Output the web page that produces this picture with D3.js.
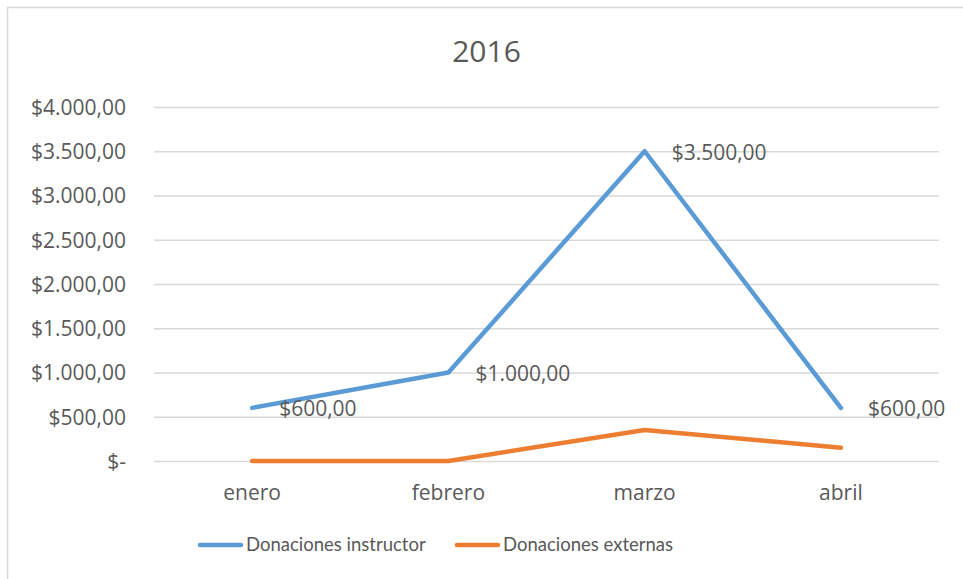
<!DOCTYPE html>
<html>
<head>
<meta charset="utf-8">
<script src="https://cdn.jsdelivr.net/npm/d3@7"></script>
<style>
  body { margin: 0; background: #fff; }
  text { font-family: "Open Sans", sans-serif; fill: #595959; }
  .legend text { font-family: Lato, sans-serif; }
</style>
</head>
<body>
<div id="chart"></div>
<script>
// chart data
const title = '2016';
const months = ['enero', 'febrero', 'marzo', 'abril'];
const instructor = [600, 1000, 3500, 600];
const externas = [0, 0, 350, 150];
const seriesNames = ['Donaciones instructor', 'Donaciones externas'];
const yTicks = [0, 500, 1000, 1500, 2000, 2500, 3000, 3500, 4000];

const width = 963, height = 579;
const margin = {top: 107, right: 24, bottom: 118, left: 154};
const colors = ['#5B9BD5', '#ED7D31'];

// spanish currency format: $4.000,00
const fmt = v => v === 0 ? '$-' : '$' + d3.format(',.2f')(v).replace(/,/g, '#').replace('.', ',').replace(/#/g, '.');

const svg = d3.select('#chart').append('svg')
    .attr('width', width)
    .attr('height', height);

// chart border
svg.append('rect')
    .attr('x', 7.5).attr('y', 7.5)
    .attr('width', width).attr('height', height)
    .attr('fill', 'none')
    .attr('stroke', '#D9D9D9')
    .attr('stroke-width', 1.5);

const x = d3.scaleBand()
    .domain(months)
    .range([margin.left, width - margin.right]);

const y = d3.scaleLinear()
    .domain([0, 4000])
    .range([height - margin.bottom, margin.top]);

svg.append('text')
    .attr('x', (margin.left + width - margin.right) / 2 - 60)
    .attr('y', 62)
    .attr('text-anchor', 'middle')
    .style('font-size', '30px')
    .text(title);

// gridlines
const yAxis = d3.axisLeft(y)
    .tickValues(yTicks)
    .tickSize(-(width - margin.left - margin.right))
    .tickPadding(28)
    .tickFormat(fmt);

svg.append('g')
    .attr('transform', `translate(${margin.left},0)`)
    .call(yAxis)
    .call(g => g.select('.domain').remove())
    .call(g => g.selectAll('.tick line').attr('stroke', '#D9D9D9').attr('stroke-width', 1.3))
    .call(g => g.selectAll('.tick text')
        .style('font-size', '21px')
        .attr('font-family', null)
        .attr('dy', '0.35em'));

const xAxis = d3.axisBottom(x).tickSize(0).tickPadding(24);
svg.append('g')
    .attr('transform', `translate(0,${y(0)})`)
    .call(xAxis)
    .call(g => g.select('.domain').remove())
    .call(g => g.selectAll('.tick text')
        .style('font-size', '21px')
        .attr('font-family', null));

const line = d3.line()
    .x((d, i) => x(months[i]) + x.bandwidth() / 2)
    .y(d => y(d));

[externas, instructor].forEach((s, k) => {
  const c = k === 0 ? colors[1] : colors[0];
  svg.append('path')
      .datum(s)
      .attr('fill', 'none')
      .attr('stroke', c)
      .attr('stroke-width', 4.5)
      .attr('stroke-linecap', 'round')
      .attr('stroke-linejoin', 'round')
      .attr('d', line);
});

// data labels for the instructor series
svg.append('g').selectAll('text')
  .data(instructor)
  .join('text')
    .attr('x', (d, i) => x(months[i]) + x.bandwidth() / 2 + 27)
    .attr('y', d => y(d) + 1)
    .attr('dy', '0.35em')
    .style('font-size', '21px')
    .text(fmt);

// legend
const legendItems = [
  {name: seriesNames[0], color: colors[0], x: 198},
  {name: seriesNames[1], color: colors[1], x: 455}
];
const legend = svg.append('g')
    .attr('class', 'legend')
  .selectAll('g')
  .data(legendItems)
  .join('g')
    .attr('transform', d => `translate(${d.x},545)`);

legend.append('line')
    .attr('x1', 2).attr('x2', 43)
    .attr('stroke', d => d.color)
    .attr('stroke-width', 4.5)
    .attr('stroke-linecap', 'round');

legend.append('text')
    .attr('x', 48)
    .attr('dy', '0.35em')
    .style('font-size', '18.5px')
    .text(d => d.name);
</script>
</body>
</html>
